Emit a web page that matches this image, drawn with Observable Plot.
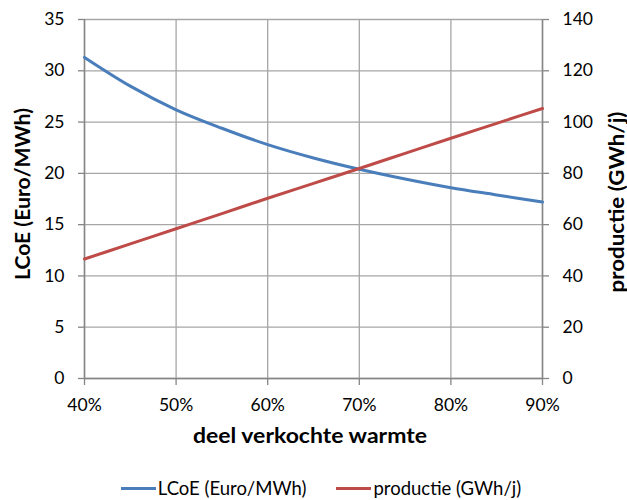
<!DOCTYPE html>
<html>
<head>
<meta charset="utf-8">
<script src="https://cdn.jsdelivr.net/npm/d3@7"></script>
<script src="https://cdn.jsdelivr.net/npm/@observablehq/plot@0.6"></script>
<style>
  html, body { margin: 0; background: #fff; font-family: Lato, "Open Sans", sans-serif; overflow: hidden; }
  #chart { position: relative; width: 627px; }
  .legend { display: flex; justify-content: center; gap: 30px; font-size: 18.5px; line-height: 20px; height: 20px; color: #000; margin-top: 8px; padding-left: 15px; }
  .legend span.item { display: flex; align-items: center; }
  .legend span.sw { display: inline-block; width: 35px; height: 3px; margin-right: 2px; }
</style>
</head>
<body>
<div id="chart"></div>
<script>
// Data
const shares = [0.40, 0.45, 0.50, 0.55, 0.60, 0.65, 0.70, 0.75, 0.80, 0.85, 0.90];
const lcoe = [31.3, 28.5, 26.2, 24.4, 22.8, 21.5, 20.4, 19.45, 18.6, 17.9, 17.2];
const productie = [46.6, 52.5, 58.4, 64.3, 70.3, 76.1, 81.9, 87.8, 93.7, 99.5, 105.3];
const xTicks = [0.4, 0.5, 0.6, 0.7, 0.8, 0.9];
const yLeftTicks = [0, 5, 10, 15, 20, 25, 30, 35];
const yRightTicks = [0, 20, 40, 60, 80, 100, 120, 140];
const seriesNames = ["LCoE (Euro/MWh)", "productie (GWh/j)"];
const colors = ["#4a7ebb", "#be4b48"];

const ratio = 35 / 140;
const lcoeData = shares.map((x, i) => ({x, y: lcoe[i]}));
const prodData = shares.map((x, i) => ({x, y: productie[i] * ratio}));

const gridColor = "#a6a6a6";
const axisColor = "#868686";

const plot = Plot.plot({
  width: 627,
  height: 470,
  marginTop: 19,
  marginBottom: 92,
  marginLeft: 84,
  marginRight: 85,
  style: {fontFamily: "Lato, 'Open Sans', sans-serif", fontSize: "17.5px", color: "#000", background: "#fff"},
  x: {domain: [0.4, 0.9]},
  y: {domain: [0, 35]},
  marks: [
    Plot.gridX(xTicks, {stroke: gridColor, strokeOpacity: 1, strokeWidth: 1.3}),
    Plot.gridY(yLeftTicks, {stroke: gridColor, strokeOpacity: 1, strokeWidth: 1.3}),
    Plot.axisX(xTicks, {tickSize: 7, tickPadding: 13, stroke: axisColor, strokeWidth: 1.3, tickFormat: d => Math.round(d * 100) + "%", label: null, fontSize: 17.5}),
    Plot.axisY(yLeftTicks, {anchor: "left", tickSize: 6, tickPadding: 14, stroke: axisColor, strokeWidth: 1.3, label: null, fontSize: 17.5}),
    Plot.axisY(yRightTicks, {anchor: "right", y: d => d * ratio, tickFormat: d => d, tickSize: 6, tickPadding: 14, stroke: axisColor, strokeWidth: 1.3, label: null, fontSize: 17.5}),
    Plot.ruleY([0], {stroke: axisColor, strokeWidth: 1.5}),
    Plot.ruleX([0.4], {stroke: axisColor, strokeWidth: 1.5}),
    Plot.ruleX([0.9], {stroke: axisColor, strokeWidth: 1.5}),
    Plot.line(lcoeData, {x: "x", y: "y", stroke: colors[0], strokeWidth: 3, curve: "monotone-x"}),
    Plot.line(prodData, {x: "x", y: "y", stroke: colors[1], strokeWidth: 3, curve: "monotone-x"})
  ]
});

const svg = d3.select(plot);
svg.append("text").attr("x", 310).attr("y", 443).attr("text-anchor", "middle")
  .attr("font-weight", "bold").attr("font-size", 20)
  .attr("textLength", 234).attr("lengthAdjust", "spacingAndGlyphs")
  .text("deel verkochte warmte");
svg.append("text").attr("transform", "translate(22,194) rotate(-90)").attr("text-anchor", "middle")
  .attr("dominant-baseline", "central")
  .attr("font-weight", "bold").attr("font-size", 20)
  .attr("textLength", 172).attr("lengthAdjust", "spacingAndGlyphs")
  .text("LCoE (Euro/MWh)");
svg.append("text").attr("transform", "translate(616,202) rotate(-90)").attr("text-anchor", "middle")
  .attr("dominant-baseline", "central")
  .attr("font-weight", "bold").attr("font-size", 20)
  .attr("textLength", 181).attr("lengthAdjust", "spacingAndGlyphs")
  .text("productie (GWh/j)");

document.getElementById("chart").appendChild(plot);

const legend = document.createElement("div");
legend.className = "legend";
seriesNames.forEach((name, i) => {
  const item = document.createElement("span");
  item.className = "item";
  const sw = document.createElement("span");
  sw.className = "sw";
  sw.style.background = colors[i];
  item.appendChild(sw);
  item.appendChild(document.createTextNode(name));
  legend.appendChild(item);
});
document.getElementById("chart").appendChild(legend);
</script>
</body>
</html>
